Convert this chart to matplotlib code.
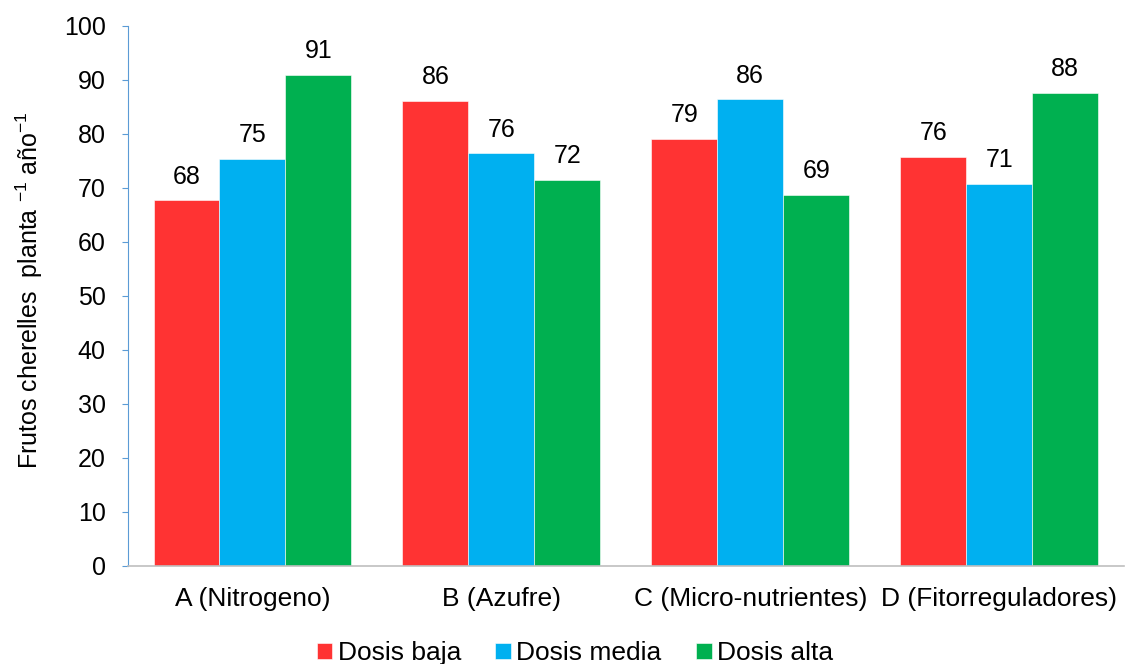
import matplotlib
matplotlib.use("Agg")
import matplotlib.pyplot as plt
import numpy as np

plt.rcParams['font.family'] = ['Liberation Sans', 'DejaVu Sans']
plt.rcParams['mathtext.fontset'] = 'custom'
plt.rcParams['mathtext.rm'] = 'Liberation Sans'
plt.rcParams['mathtext.it'] = 'Liberation Sans'

# Frutos cherelles por planta y año, por tratamiento y dosis
categorias = ['A (Nitrogeno)', 'B (Azufre)', 'C (Micro-nutrientes)', 'D (Fitorreguladores)']
dosis_baja = [67.7, 86.1, 79.1, 75.7]
dosis_media = [75.4, 76.4, 86.4, 70.7]
dosis_alta = [90.9, 71.5, 68.7, 87.6]
series = ['Dosis baja', 'Dosis media', 'Dosis alta']
colores = ['#FF3333', '#00B0F0', '#00B050']

fig = plt.figure(figsize=(11.25, 6.64), dpi=100)
ax = fig.add_axes([0.1138, 0.1476, 0.885, 0.8133])

x = np.arange(len(categorias))
ancho = 0.265
for i, (vals, nombre, col) in enumerate(zip([dosis_baja, dosis_media, dosis_alta], series, colores)):
    barras = ax.bar(x + (i - 1) * ancho, vals, ancho, color=col, label=nombre,
                    edgecolor='white', linewidth=0.4)
    for b, v in zip(barras, vals):
        ax.annotate(f'{v:.0f}', (b.get_x() + b.get_width() / 2, v),
                    xytext=(0, 8.5), textcoords='offset points',
                    ha='center', va='bottom', fontsize=18)

ax.set_xlim(-0.5, 3.5)
ax.set_ylim(0, 100)
ax.set_yticks(np.arange(0, 101, 10))
ax.set_xticks(x)
ax.set_xticklabels(categorias, fontsize=19)
ax.tick_params(axis='x', length=0, pad=15)
ax.tick_params(axis='y', length=4, pad=12, labelsize=18, color='#5B9BD5')

for s in ['top', 'right']:
    ax.spines[s].set_visible(False)
ax.spines['left'].set_color('#5B9BD5')
ax.spines['bottom'].set_color('#BFBFBF')
ax.spines['bottom'].set_linewidth(1.2)

ax.set_ylabel('Frutos cherelles  planta $^{-1}$ año$^{-1}$', fontsize=18)
ax.yaxis.set_label_coords(-0.099, 0.51)
ax.yaxis.label.set_verticalalignment('center')

fig.legend(loc='center', bbox_to_anchor=(0.511, 0.016), ncol=3, frameon=False,
           fontsize=19, handlelength=0.6, handleheight=0.6, handletextpad=0.2,
           columnspacing=1.3)

fig.savefig('out.png', dpi=100)
